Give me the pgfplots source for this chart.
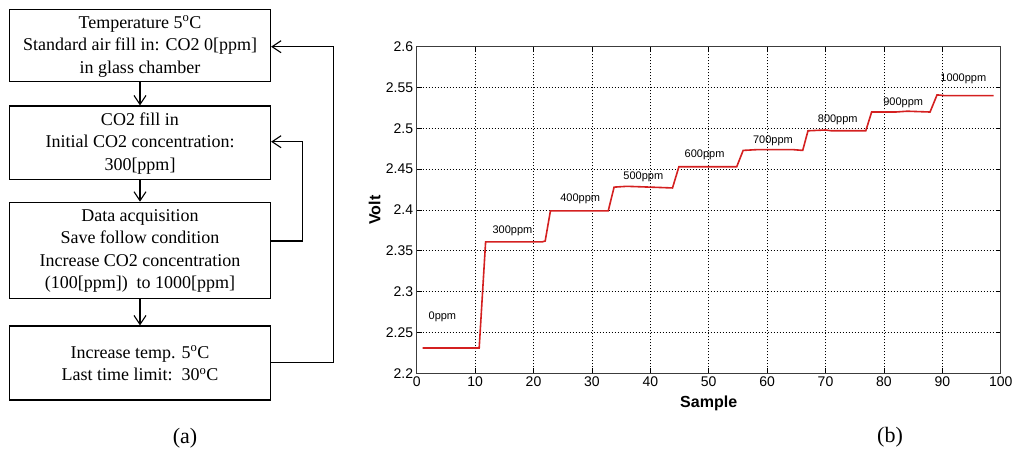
\documentclass[border=0pt]{standalone}
\usepackage{fontspec}
\setmainfont{Liberation Serif}
\newfontfamily\arial{Liberation Sans}
\usepackage{pgfplots}
\pgfplotsset{compat=1.18}
\usetikzlibrary{arrows.meta}
\definecolor{linered}{RGB}{212,32,32}
\definecolor{axgray}{RGB}{60,60,60}

\begin{document}
\begin{tikzpicture}[x=1pt,y=1pt]
\useasboundingbox (0,0) rectangle (1013,453);
\tikzset{
  box/.style={draw, line width=1.2pt},
  txt/.style={align=center, font=\fontsize{18}{22.5}\selectfont},
  fl/.style={line width=1.2pt, -{Straight Barb[length=9pt,width=12pt,line width=1.1pt]}}
}
% (a) flowchart
\draw[box] (9.5,443.7) rectangle (270.5,371.3);
\draw[box] (9.5,347) rectangle (270.5,273.7);
\draw[box] (9.5,250.7) rectangle (270.5,154.7);
\draw[box] (9.5,127) rectangle (270.5,53);
\node[txt] at (140,406.5) {Temperature 5\textsuperscript{o}C\\Standard air fill in: CO2 0[ppm]\\in glass chamber};
\node[txt] at (140,309.5) {CO2 fill in\\Initial CO2 concentration:\\300[ppm]};
\node[txt] at (140,202) {Data acquisition\\Save follow condition\\Increase CO2 concentration\\(100[ppm])\ \ to 1000[ppm]};
\node[txt] at (140,89.5) {Increase temp. 5\textsuperscript{o}C\\Last time limit:\ \ 30\textsuperscript{o}C};
\draw[fl] (140,371.3) -- (140,347.6);
\draw[fl] (140,273.7) -- (140,251.3);
\draw[fl] (140,154.7) -- (140,127.6);
\draw[fl] (270.5,212) -- (302.7,212) -- (302.7,311.3) -- (271.1,311.3);
\draw[fl] (270.5,90.3) -- (333.3,90.3) -- (333.3,406.3) -- (271.1,406.3);
\node[font=\fontsize{22}{26}\selectfont] at (185,15) {(a)};
\node[font=\fontsize{22}{26}\selectfont] at (890,16) {(b)};

% (b) sensor output
\begin{axis}[
  at={(416.7pt,79.7pt)}, anchor=south west,
  width=584pt, height=326.6pt, scale only axis,
  xmin=0, xmax=100, ymin=2.2, ymax=2.6,
  xtick={0,10,20,30,40,50,60,70,80,90,100},
  ytick={2.2,2.25,2.3,2.35,2.4,2.45,2.5,2.55,2.6},
  /pgf/number format/assume math mode=true,
  ticklabel style={font=\arial\fontsize{14}{16}\selectfont},
  xlabel={\textbf{Sample}}, ylabel={\textbf{Volt}},
  label style={font=\arial\fontsize{16}{18}\selectfont},
  xlabel style={at={(axis description cs:0.5,-0.092)}, anchor=center},
  ylabel style={at={(axis description cs:-0.072,0.5)}, anchor=center},
  grid=major,
  major grid style={black, line width=0.7pt, dash pattern=on 1.5pt off 1.5pt},
  axis line style={axgray, line width=1pt},
  tick style={black, line width=0.7pt},
  major tick length=5pt,
  clip=false
]
\addplot[linered, line width=1.6pt] coordinates {
  (1,2.231) (4,2.231) (10.7,2.231) (11.8,2.361) (21.5,2.361) (22,2.362)
  (22.9,2.399) (32.8,2.399) (33.8,2.428) (36,2.429) (40,2.428) (43.8,2.427)
  (44.9,2.453) (48,2.453) (54.8,2.453) (55.9,2.473) (58.5,2.474) (64.3,2.474)
  (66.1,2.473) (67.0,2.497) (70,2.498) (71,2.497) (76.9,2.497) (77.9,2.520)
  (82,2.520) (84,2.521) (87.9,2.520) (89.1,2.541) (90.5,2.540) (93,2.540)
  (98.8,2.540)
};
\begin{scope}[every node/.style={font=\arial\fontsize{11}{13}\selectfont}]
\node at (axis cs:4.4,2.269) {0ppm};
\node at (axis cs:16.4,2.375) {300ppm};
\node at (axis cs:28,2.4135) {400ppm};
\node at (axis cs:38.8,2.441) {500ppm};
\node at (axis cs:49.3,2.467) {600ppm};
\node at (axis cs:61,2.485) {700ppm};
\node at (axis cs:72.1,2.510) {800ppm};
\node at (axis cs:83.3,2.531) {900ppm};
\node at (axis cs:93.6,2.561) {1000ppm};
\end{scope}
\end{axis}
\end{tikzpicture}
\end{document}
